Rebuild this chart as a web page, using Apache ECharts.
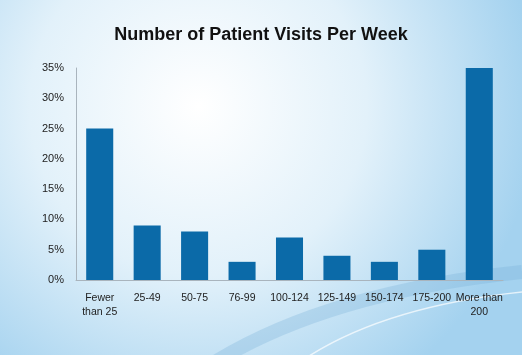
<!DOCTYPE html>
<html>
<head>
<meta charset="utf-8">
<script src="https://cdn.jsdelivr.net/npm/echarts@6/dist/echarts.min.js"></script>
<style>html,body{margin:0;padding:0;}#c{width:522px;height:355px;}</style>
</head>
<body>
<div id="c"></div>
<script>
const categories = ['Fewer\nthan 25', '25-49', '50-75', '76-99', '100-124', '125-149', '150-174', '175-200', 'More than\n200'];
const values = [25, 9, 8, 3, 7, 4, 3, 5, 35];
const titleText = 'Number of Patient Visits Per Week';

const chart = echarts.init(document.getElementById('c'), null, {renderer: 'canvas'});
chart.setOption({
  animation: false,
  backgroundColor: {
    type: 'radial', x: 0.38, y: 0.3, r: 0.95,
    colorStops: [
      {offset: 0, color: '#ffffff'},
      {offset: 0.5, color: '#e2f1fa'},
      {offset: 1, color: '#a4d2ef'}
    ]
  },
  graphic: [
    {type: 'bezierCurve', silent: true, z: -1,
     shape: {x1: 215, y1: 362, x2: 522, y2: 272, cpx1: 330, cpy1: 292},
     style: {stroke: 'rgba(120,175,215,0.3)', lineWidth: 14, fill: null}},
    {type: 'bezierCurve', silent: true, z: -1,
     shape: {x1: 300, y1: 362, x2: 522, y2: 292, cpx1: 380, cpy1: 307},
     style: {stroke: 'rgba(255,255,255,0.7)', lineWidth: 1.5, fill: null}}
  ],
  title: {
    text: titleText, left: 'center', top: 21,
    textStyle: {fontFamily: 'Liberation Sans, Arial', fontSize: 18, fontWeight: 'bold', color: '#111'}
  },
  grid: {left: 76, right: 19, top: 68, bottom: 75},
  xAxis: {
    type: 'category', data: categories,
    axisLine: {show: true, lineStyle: {color: '#a9b4bd', width: 1}},
    axisTick: {show: false},
    axisLabel: {fontFamily: 'Liberation Sans, Arial', fontSize: 10.5, color: '#222', margin: 11, interval: 0, lineHeight: 14}
  },
  yAxis: {
    type: 'value', min: 0, max: 35, interval: 5,
    axisLine: {show: true, lineStyle: {color: '#a9b4bd', width: 1}},
    axisTick: {show: false},
    splitLine: {show: false},
    axisLabel: {fontFamily: 'Liberation Sans, Arial', fontSize: 11, color: '#222', margin: 12, formatter: '{value}%'}
  },
  series: [{
    type: 'bar', data: values, barCategoryGap: '43%',
    itemStyle: {color: '#0b6aa8'}
  }]
});
</script>
</body>
</html>
